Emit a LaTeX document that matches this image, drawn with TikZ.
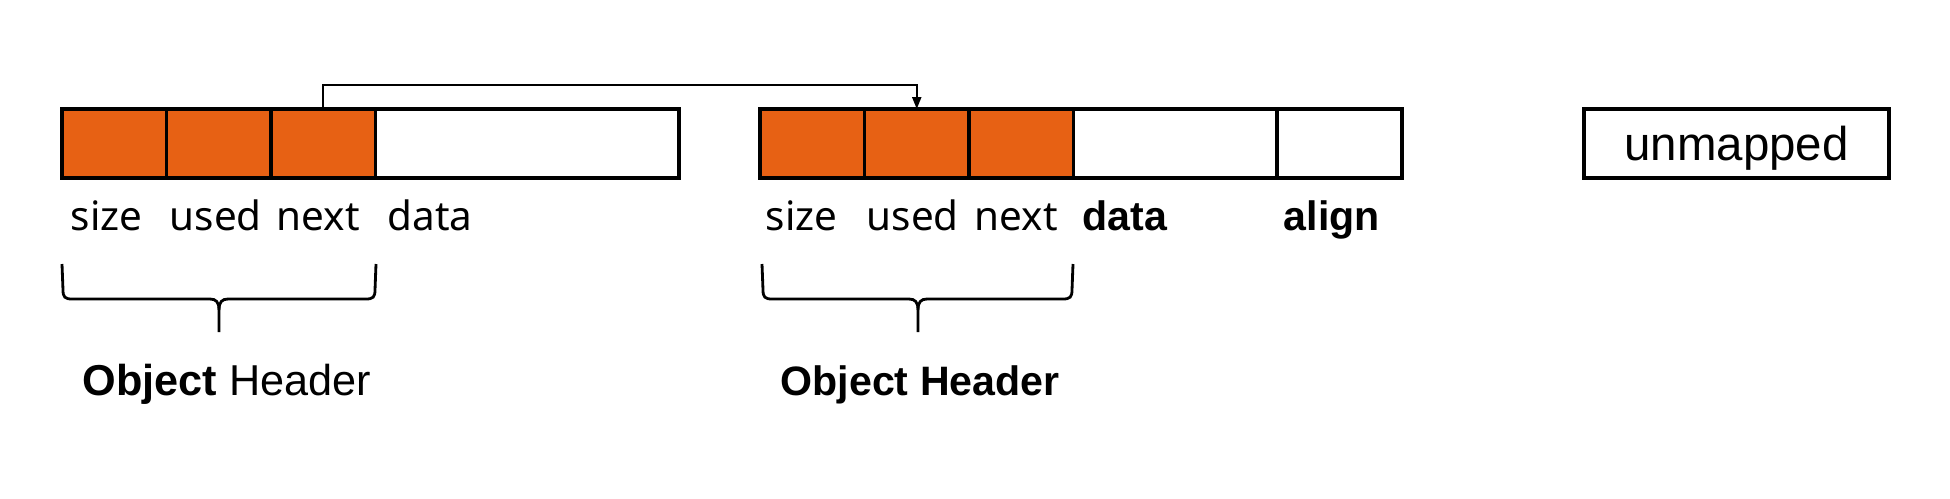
\documentclass[tikz,border=0pt]{standalone}
\usepackage{fontspec}
\setmainfont{Liberation Sans}
\newfontfamily\lblfont{Noto Sans}
\usepackage{tikz}
\usetikzlibrary{arrows.meta,positioning,calc}

\definecolor{hdrorange}{RGB}{231,97,20}

\begin{document}
\begin{tikzpicture}[
  x=0.1mm, y=-0.1mm,
  cell/.style={draw, line width=1pt, minimum height=6.9mm, minimum width=10.45mm, inner sep=0pt, outer sep=0pt, fill=hdrorange},
  plain/.style={cell, fill=white},
  lbl/.style={inner sep=0pt, anchor=base west, font=\lblfont\fontsize{11.5}{13}\selectfont},
  blbl/.style={inner sep=0pt, anchor=base west, font=\fontsize{11.7}{13}\selectfont\bfseries},
  hdr/.style={inner sep=0pt, anchor=base west, font=\fontsize{12.3}{14}\selectfont},
  arrow/.style={-{Triangle[length=1.2mm, width=0.9mm]}, line width=0.6pt},
  brace/.style={line width=0.8pt}
]
\useasboundingbox (0,0) rectangle (1950,498);

% first object
\node[cell, anchor=north west] (size1) at (62,109) {};
\node[cell, right=0pt of size1] (used1) {};
\node[cell, right=0pt of used1] (next1) {};
\node[plain, right=0pt of next1, minimum width=30.35mm] (data1) {};

% second object
\node[cell, anchor=north west] (size2) at (760,109) {};
\node[cell, right=0pt of size2] (used2) {};
\node[cell, right=0pt of used2] (next2) {};
\node[plain, right=0pt of next2, minimum width=20.35mm] (data2) {};
\node[plain, right=0pt of data2, minimum width=12.5mm] (align2) {};

% unmapped region
\node[plain, anchor=north west, minimum width=30.5mm, text depth=0pt, font=\fontsize{13.5}{15}\selectfont] (unmapped) at (1584,109) {unmapped};

% next pointer
\draw[arrow] (next1.north) -- ++(0,2.4mm) -| (used2.north);

% field labels
\node[lbl] (tsize1) at (70,230) {size};
\node[lbl] (tused1) at (169,230) {used};
\node[lbl] (tnext1) at (276,230) {next};
\node[lbl] (tdata1) at (387,230) {data};

\node[lbl] (tsize2) at (765,230) {size};
\node[lbl] (tused2) at (866,230) {used};
\node[lbl] (tnext2) at (974,230) {next};
\node[blbl] (tdata2) at (1082,230) {data};
\node[blbl] (talign2) at (1283,230) {align};

% header braces
\foreach \l/\m/\r in {62/219/376, 762/918/1073} {
  \draw[brace] (\l,264) -- (\l+1,290) .. controls (\l+1,297) and (\l+3,299) .. (\l+10,299)
    -- (\m-9,299) .. controls (\m-3,299) and (\m,302) .. (\m,310) -- (\m,332);
  \draw[brace] (\r,264) -- (\r-1,290) .. controls (\r-1,297) and (\r-3,299) .. (\r-10,299)
    -- (\m+9,299) .. controls (\m+3,299) and (\m,302) .. (\m,310);
}

\node[hdr] (hdr1) at (82,395) {\textbf{Object} Header};
\node[hdr, font=\fontsize{11.7}{14}\selectfont] (hdr2) at (780,395) {\bfseries Object Header};

\end{tikzpicture}
\end{document}
